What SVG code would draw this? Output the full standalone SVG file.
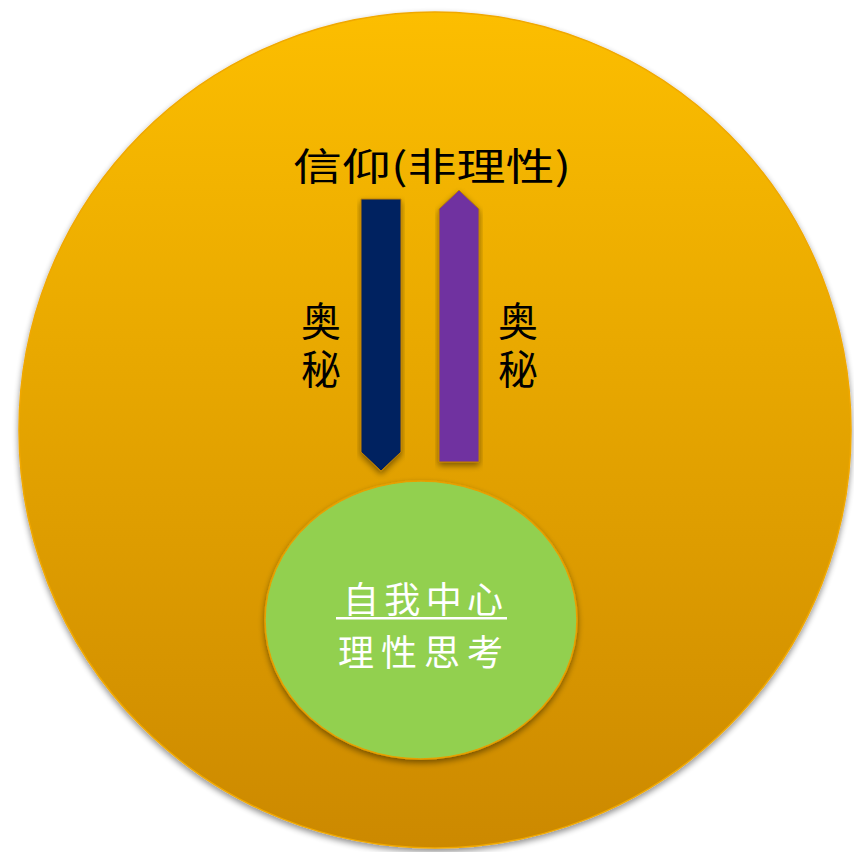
<svg xmlns="http://www.w3.org/2000/svg" width="854" height="852" viewBox="0 0 854 852">
<defs>
<linearGradient id="gOuter" x1="0" y1="0" x2="0" y2="1">
<stop offset="0" stop-color="#FCBE00"/>
<stop offset="1" stop-color="#CC8900"/>
</linearGradient>
<filter id="sh" x="-10%" y="-10%" width="120%" height="125%">
<feGaussianBlur in="SourceAlpha" stdDeviation="3"/>
<feOffset dx="0" dy="3" result="b"/>
<feComponentTransfer><feFuncA type="linear" slope="0.45"/></feComponentTransfer>
<feMerge><feMergeNode/><feMergeNode in="SourceGraphic"/></feMerge>
</filter>
</defs>
<style>
.cjk{font-family:"Noto Sans CJK SC","Noto Sans CJK TC",sans-serif;}
.blk{fill:#000;}
.wht{fill:#fff;}
.vert{writing-mode:vertical-rl;letter-spacing:8px;}
</style>
<g id="outer">
<ellipse cx="435" cy="430" rx="416" ry="418" fill="url(#gOuter)" stroke="#F0A800" stroke-width="1.5" filter="url(#sh)"/>
</g>
<g id="title">
<text class="cjk blk" x="293" y="180" font-size="38" textLength="278" lengthAdjust="spacingAndGlyphs">信仰(非理性)</text>
</g>
<g id="connectors">
<polygon points="361,199 401,199 401,452 381,471 361,452" fill="#002060" stroke="#C08000" stroke-width="1" filter="url(#sh)"/>
<polygon points="439,209 459,190 479,209 479,462 439,462" fill="#7030A0" stroke="#C08000" stroke-width="1" filter="url(#sh)"/>
</g>
<g id="label-left">
<text class="cjk blk vert" x="321" y="301" font-size="40">奥秘</text>
</g>
<g id="label-right">
<text class="cjk blk vert" x="518" y="301" font-size="40">奥秘</text>
</g>
<g id="inner">
<ellipse cx="421" cy="620" rx="156" ry="139" fill="#92D050" stroke="#E8A000" stroke-width="1.5" filter="url(#sh)"/>
<text class="cjk wht" x="343" y="613" font-size="36" textLength="160" lengthAdjust="spacing">自我中心</text>
<rect x="336" y="617" width="171" height="2.5" fill="#fff"/>
<text class="cjk wht" x="338" y="666" font-size="36" textLength="165" lengthAdjust="spacing">理性思考</text>
</g>
</svg>
